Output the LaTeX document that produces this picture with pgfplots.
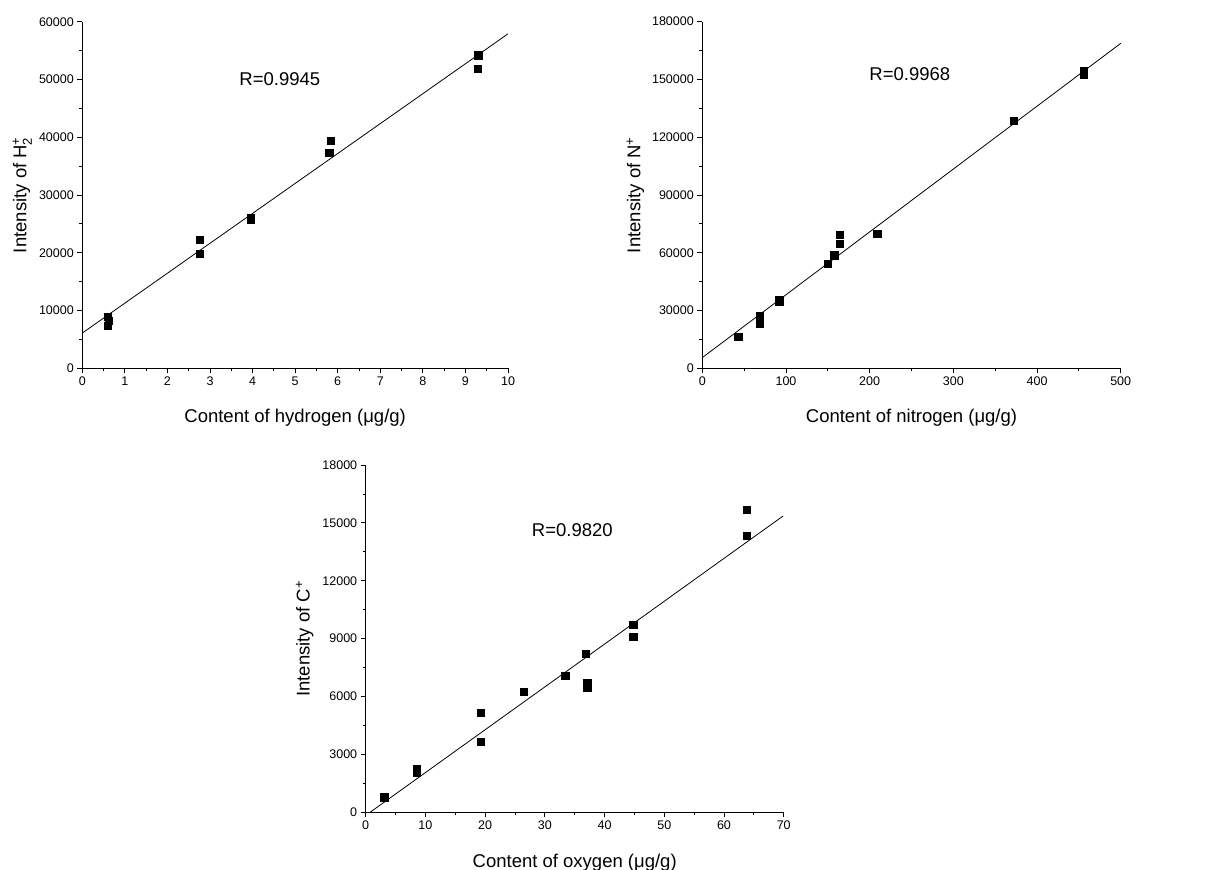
\documentclass[border=0pt]{standalone}
\usepackage{fontspec}
\setmainfont{Liberation Sans}
\usepackage{amsmath}
\usepackage{pgfplots}
\pgfplotsset{compat=1.18}

\newcommand\labfont{\fontsize{18.5}{22}\selectfont}
\pgfplotsset{
  calib/.style={
    scale only axis,
    axis x line=bottom, axis y line=left,
    axis line style={-, line width=1.1pt, black},
    tick align=outside,
    major tick length=5pt, minor tick length=3pt,
    every tick/.style={black, line width=0.9pt},
    every minor tick/.style={black, line width=0.8pt},
    enlargelimits=false,
    clip=false,
    scaled ticks=false,
    /pgf/number format/fixed,
    /pgf/number format/precision=0,
    /pgf/number format/1000 sep={},
    /pgf/number format/assume math mode=true,
    tick label style={font=\fontsize{12.5}{14}\selectfont},
  },
  pts/.style={only marks, mark=square*, mark size=3.6pt, black},
  fit/.style={black, line width=0.8pt, no marks},
  xlab/.style={every axis x label/.style={at={(axis description cs:0.5,#1)}, anchor=center, font=\labfont}},
  ylab/.style={every axis y label/.style={at={(axis description cs:#1,0.5)}, rotate=90, anchor=center, font=\labfont}},
}
\tikzset{rtext/.style={font=\labfont, anchor=center}}

\begin{document}
\begin{tikzpicture}
\useasboundingbox (0,0) rectangle (1229pt,870pt);

% hydrogen
\begin{axis}[calib,
  at={(82.3pt,501.7pt)}, anchor=south west,
  width=425.7pt, height=346.6pt,
  xmin=0, xmax=10, ymin=0, ymax=60000,
  xtick={0,1,2,3,4,5,6,7,8,9,10},
  minor xtick={0.5,1.5,2.5,3.5,4.5,5.5,6.5,7.5,8.5,9.5},
  ytick={0,10000,20000,30000,40000,50000,60000},
  minor ytick={5000,15000,25000,35000,45000,55000},
  xlabel={Content of hydrogen (μg/g)},
  ylabel={Intensity of H$_{\text{2}}^{\text{+}}$},
  xlab=-0.143, ylab=-0.141,
]
\addplot[pts] coordinates {
  (0.6,8900) (0.6,7400) (0.62,8300)
  (2.75,22300) (2.75,19800)
  (3.95,26100) (3.95,25800)
  (5.83,39400) (5.80,37300)
  (9.30,54200) (9.28,51800)
};
\addplot[fit] coordinates {(0,6100) (10,57900)};
\node[rtext] at (axis cs:4.64,50100) {R=0.9945};
\end{axis}

% nitrogen
\begin{axis}[calib,
  at={(702.3pt,501.7pt)}, anchor=south west,
  width=418.4pt, height=346.6pt,
  xmin=0, xmax=500, ymin=0, ymax=180000,
  xtick={0,100,200,300,400,500},
  minor xtick={50,150,250,350,450},
  ytick={0,30000,60000,90000,120000,150000,180000},
  minor ytick={15000,45000,75000,105000,135000,165000},
  xlabel={Content of nitrogen (μg/g)},
  ylabel={Intensity of N$^{\text{+}}$},
  xlab=-0.143, ylab=-0.16,
]
\addplot[pts] coordinates {
  (43,16400)
  (68.5,27300) (68.5,25500) (68.5,23400)
  (92,35500) (92,34600)
  (149.5,54500)
  (157.5,58700)
  (164.5,69200) (164.5,64600)
  (209,70100)
  (372.5,128400)
  (455.5,154500) (455.5,152300)
};
\addplot[fit] coordinates {(0,5540) (500,168750)};
\node[rtext] at (axis cs:248,152800) {R=0.9968};
\end{axis}

% oxygen
\begin{axis}[calib,
  at={(365.7pt,57.7pt)}, anchor=south west,
  width=418pt, height=347.3pt,
  xmin=0, xmax=70, ymin=0, ymax=18000,
  xtick={0,10,20,30,40,50,60,70},
  minor xtick={5,15,25,35,45,55,65},
  ytick={0,3000,6000,9000,12000,15000,18000},
  minor ytick={1500,4500,7500,10500,13500,16500},
  xlabel={Content of oxygen (μg/g)},
  ylabel={Intensity of C$^{\text{+}}$},
  xlab=-0.144, ylab=-0.146,
]
\addplot[pts] coordinates {
  (3.1,780)
  (8.5,2250) (8.5,2050)
  (19.2,5170) (19.2,3660)
  (26.4,6240)
  (33.4,7100)
  (36.9,8240)
  (37.1,6700) (37.1,6450)
  (44.8,9740) (44.8,9100)
  (63.8,15670) (63.8,14320)
};
\addplot[fit] coordinates {(0.73,0) (69.9,15357)};
\node[rtext] at (axis cs:34.6,14630) {R=0.9820};
\end{axis}
\end{tikzpicture}
\end{document}
